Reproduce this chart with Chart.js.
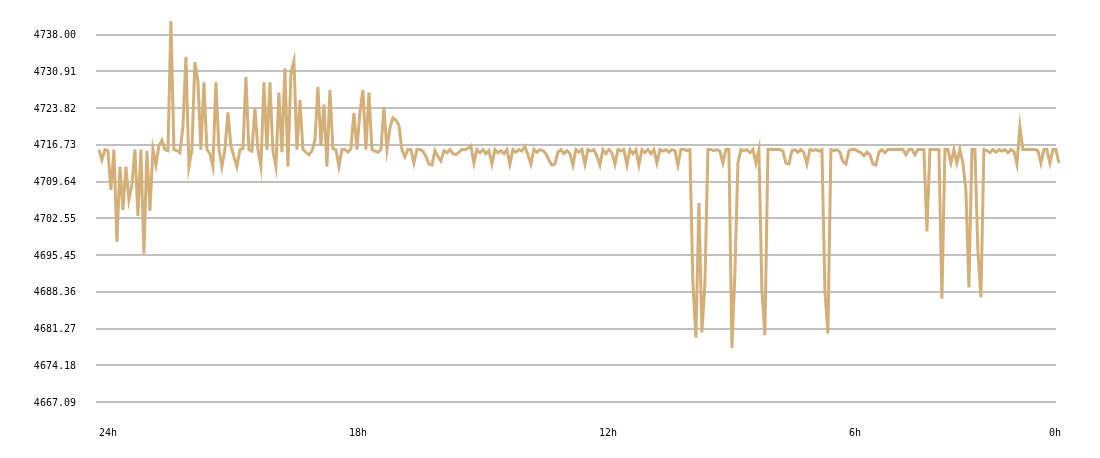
<!DOCTYPE html>
<html>
<head>
<meta charset="utf-8">
<title>Price, last 24 hours</title>
<script src="https://cdn.jsdelivr.net/npm/chart.js@4.4.1/dist/chart.umd.min.js"></script>
<style>
  html, body { margin: 0; padding: 0; background: #fff; }
  #priceChart { display: block; }
</style>
</head>
<body>
<canvas id="priceChart" width="1100" height="458"></canvas>
<script>
// x axis: hours ago, 24h on the left down to now on the right
const hourLabels = ["24h", "18h", "12h", "6h", "0h"];
const hourTicks = [24, 18, 12, 6, 0];
const priceTicks = [4667.09, 4674.18, 4681.27, 4688.36, 4695.45, 4702.55, 4709.64, 4716.73, 4723.82, 4730.91, 4738.00];

// one sample every 0.072 h, oldest first
const sampleStepHours = 0.072;
const prices = [
  4715.8, 4713.8, 4715.8, 4715.6, 4708.0, 4715.8, 4698.0, 4712.5, 4704.1, 4712.5,
  4706.1, 4709.0, 4715.8, 4703.0, 4715.8, 4695.7, 4715.5, 4704.0, 4715.8, 4712.8,
  4716.5, 4717.6, 4715.8, 4715.6, 4740.6, 4715.8, 4715.6, 4715.2, 4720.2, 4733.7,
  4712.5, 4715.8, 4732.7, 4729.0, 4715.8, 4728.8, 4715.8, 4715.0, 4712.5, 4728.8,
  4716.0, 4712.5, 4715.8, 4723.0, 4716.5, 4714.5, 4712.5, 4715.8, 4716.0, 4729.8,
  4715.8, 4715.5, 4723.8, 4715.8, 4712.5, 4728.8, 4715.8, 4728.8, 4715.5, 4712.5,
  4726.8, 4715.3, 4731.5, 4712.5, 4730.5, 4732.9, 4715.8, 4725.4, 4715.8, 4715.3,
  4714.8, 4715.5, 4717.6, 4727.9, 4716.5, 4724.5, 4712.5, 4727.3, 4716.0, 4715.8,
  4712.5, 4715.8, 4715.8, 4715.3, 4716.0, 4722.9, 4715.8, 4723.0, 4727.3, 4715.8,
  4726.8, 4715.8, 4715.5, 4715.3, 4715.8, 4724.0, 4715.8, 4720.0, 4721.9, 4721.5,
  4720.5, 4715.8, 4714.4, 4715.8, 4715.8, 4713.2, 4715.8, 4715.8, 4715.5, 4714.5,
  4713.0, 4712.8, 4715.6, 4714.5, 4713.6, 4715.6, 4715.2, 4715.8, 4715.0, 4714.8,
  4715.3, 4715.8, 4715.8, 4716.0, 4716.5, 4713.2, 4715.8, 4715.2, 4715.8, 4715.0,
  4715.6, 4713.0, 4715.8, 4715.2, 4715.6, 4715.0, 4715.8, 4713.0, 4715.8, 4715.3,
  4715.8, 4715.5, 4716.4, 4714.8, 4713.0, 4715.8, 4715.3, 4715.8, 4715.6, 4715.0,
  4713.8, 4712.8, 4713.0, 4715.3, 4715.8, 4715.0, 4715.6, 4715.0, 4712.8, 4715.8,
  4715.3, 4715.8, 4713.0, 4715.8, 4715.5, 4715.8, 4714.5, 4712.8, 4715.8, 4715.0,
  4715.8, 4715.2, 4713.0, 4715.8, 4715.5, 4715.8, 4712.8, 4715.8, 4715.0, 4715.8,
  4712.8, 4715.8, 4715.2, 4715.8, 4715.0, 4715.8, 4713.2, 4715.8, 4715.5, 4715.8,
  4715.3, 4715.8, 4715.6, 4712.8, 4715.8, 4715.8, 4715.6, 4715.8, 4690.0, 4679.5,
  4705.5, 4680.5, 4690.0, 4715.8, 4715.8, 4715.6, 4715.8, 4715.5, 4713.2, 4715.8,
  4715.8, 4677.5, 4692.0, 4713.2, 4715.8, 4715.6, 4715.8, 4715.2, 4715.8, 4713.2,
  4715.8, 4688.5, 4680.0, 4715.8, 4715.8, 4715.8, 4715.8, 4715.8, 4715.5, 4713.2,
  4713.0, 4715.6, 4715.8, 4715.3, 4715.8, 4715.2, 4713.0, 4715.8, 4715.6, 4715.8,
  4715.5, 4715.8, 4688.5, 4680.3, 4715.8, 4715.6, 4715.8, 4715.3, 4713.5, 4713.0,
  4715.6, 4715.8, 4715.8, 4715.5, 4715.2, 4714.6, 4715.3, 4714.8, 4713.0, 4712.8,
  4715.3, 4715.8, 4715.2, 4715.8, 4715.8, 4715.8, 4715.8, 4715.8, 4715.8, 4714.8,
  4715.8, 4715.8, 4714.8, 4715.8, 4715.8, 4715.8, 4700.0, 4715.8, 4715.8, 4715.8,
  4715.8, 4687.0, 4715.8, 4715.8, 4713.2, 4715.8, 4713.2, 4715.8, 4713.2, 4708.0,
  4689.2, 4715.8, 4715.8, 4696.0, 4687.3, 4715.8, 4715.6, 4715.2, 4715.8, 4715.3,
  4715.8, 4715.5, 4715.8, 4715.2, 4715.8, 4715.5, 4713.0, 4720.2, 4715.8, 4715.8,
  4715.8, 4715.8, 4715.8, 4715.6, 4713.2, 4715.8, 4715.8, 4713.2, 4715.8, 4715.8,
  4713.2
];

const points = prices.map((p, i) => ({ x: 24 - i * sampleStepHours, y: p }));

const monoFont = { family: "'DejaVu Sans Mono', monospace", size: 10 };

new Chart(document.getElementById("priceChart"), {
  type: "line",
  data: {
    datasets: [
      {
        data: points,
        borderColor: "#d4b078",
        borderWidth: 3,
        pointRadius: 0,
        tension: 0,
        clip: false,
      },
    ],
  },
  options: {
    responsive: false,
    animation: false,
    devicePixelRatio: 1,
    layout: {
      padding: { top: 19, right: 44, left: 0, bottom: 0 },
    },
    plugins: {
      legend: { display: false },
      tooltip: { enabled: false },
    },
    scales: {
      x: {
        type: "linear",
        reverse: true,
        min: 1.03,
        max: 24.07,
        grid: { display: false },
        border: { display: false },
        ticks: {
          align: "start",
          autoSkip: false,
          maxRotation: 0,
          padding: 17,
          color: "#000",
          font: monoFont,
          callback: (value, index) => hourLabels[index],
        },
        afterBuildTicks: (scale) => {
          // keep the last label inside the plot, like the original
          scale.ticks = hourTicks.map((h) => ({ value: Math.max(h, scale.min + 0.17) }));
        },
        afterFit: (scale) => {
          scale.height = 56;
        },
      },
      y: {
        min: 4667.09,
        max: 4741,
        grid: { color: "#c0c0c0", lineWidth: 2, drawTicks: false },
        border: { display: false },
        ticks: {
          padding: 20,
          labelOffset: 1,
          color: "#000",
          font: monoFont,
          callback: (value) => value.toFixed(2),
        },
        afterBuildTicks: (scale) => {
          scale.ticks = priceTicks.map((v) => ({ value: v }));
        },
        afterFit: (scale) => {
          scale.width = 96;
          // tick padding should not push the plot down
          scale.paddingTop = 0;
          scale.paddingBottom = 0;
        },
      },
    },
  },
});
</script>
</body>
</html>
